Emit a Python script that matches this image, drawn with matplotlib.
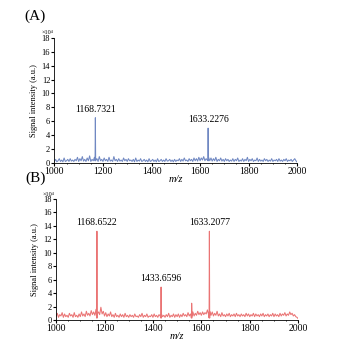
import numpy as np
import matplotlib.pyplot as plt

plt.rcParams['font.family'] = 'Liberation Serif'

# m/z grid for the baseline (every 5 units)
mz_grid = list(range(1000, 2001, 5))

noise_a = [0.2, 0.5, 0.15, 0.3, 0.6, 0.2, 0.4, 0.15, 0.7, 0.2, 0.3, 0.5, 0.2, 0.6, 0.25, 0.4, 0.2, 0.5, 0.3, 0.8,
           0.2, 0.6, 0.3, 0.9, 0.25, 0.5, 0.2, 0.7, 0.3, 1.0, 0.2, 0.5, 0.3, 0.8, 0.4, 0.6, 0.2, 0.9, 0.3, 0.5,
           0.2, 0.7, 0.3, 0.5, 0.2, 0.8, 0.25, 0.4, 0.2, 0.9, 0.3, 0.5, 0.2, 0.6, 0.25, 0.4, 0.2, 0.7, 0.3, 0.5,
           0.2, 0.6, 0.3, 0.4, 0.2, 0.5, 0.15, 0.7, 0.2, 0.4, 0.25, 0.6, 0.2, 0.3, 0.5, 0.2, 0.4, 0.15, 0.6, 0.2,
           0.3, 0.5, 0.2, 0.4, 0.15, 0.6, 0.2, 0.3, 0.5, 0.2, 0.4, 0.2, 0.6, 0.25, 0.3, 0.5, 0.2, 0.4, 0.15, 0.5,
           0.2, 0.4, 0.3, 0.6, 0.2, 0.5, 0.25, 0.7, 0.3, 0.4, 0.2, 0.6, 0.3, 0.5, 0.2, 0.7, 0.3, 0.6, 0.25, 0.8,
           0.3, 0.7, 0.4, 0.9, 0.3, 0.6, 0.4, 0.8, 0.3, 0.7, 0.25, 0.6, 0.3, 0.8, 0.2, 0.5, 0.3, 0.7, 0.25, 0.5,
           0.2, 0.6, 0.3, 0.5, 0.2, 0.4, 0.25, 0.6, 0.2, 0.5, 0.3, 0.7, 0.2, 0.4, 0.25, 0.6, 0.2, 0.5, 0.3, 0.8,
           0.2, 0.5, 0.3, 0.6, 0.2, 0.4, 0.3, 0.7, 0.2, 0.5, 0.25, 0.4, 0.2, 0.6, 0.3, 0.5, 0.2, 0.4, 0.25, 0.6,
           0.2, 0.4, 0.3, 0.5, 0.2, 0.6, 0.25, 0.4, 0.2, 0.5, 0.3, 0.6, 0.2, 0.4, 0.3, 0.5, 0.2, 0.4, 0.6, 0.3,
           0.1]

noise_b = [0.5, 1.0, 0.4, 0.8, 0.6, 1.1, 0.4, 0.9, 0.5, 0.7, 0.4, 1.0, 0.6, 0.8, 0.4, 1.1, 0.5, 0.7, 0.4, 0.9,
           0.5, 1.2, 0.6, 0.9, 0.5, 1.3, 0.7, 1.0, 0.6, 1.4, 0.8, 1.2, 0.7, 1.6, 0.9, 1.2, 0.8, 1.9, 0.9, 1.3,
           0.6, 1.1, 0.5, 0.9, 0.6, 1.2, 0.5, 0.8, 0.4, 1.0, 0.5, 0.7, 0.4, 0.9, 0.5, 0.8, 0.4, 1.0, 0.5, 0.7,
           0.4, 0.8, 0.5, 0.7, 0.4, 0.9, 0.5, 0.6, 0.4, 0.8, 0.5, 1.0, 0.4, 0.7, 0.5, 0.9, 0.4, 0.6, 0.5, 0.8,
           0.4, 0.9, 0.5, 0.7, 0.4, 0.8, 0.6, 0.9, 0.5, 0.7, 0.4, 0.8, 0.5, 1.0, 0.4, 0.7, 0.5, 0.9, 0.4, 0.8,
           0.5, 0.9, 0.4, 0.8, 0.5, 1.0, 0.6, 0.8, 0.5, 1.1, 0.6, 0.9, 0.7, 1.2, 0.6, 1.0, 0.7, 1.3, 0.8, 1.1,
           0.7, 1.2, 0.8, 1.1, 0.9, 1.5, 0.8, 1.3, 0.7, 1.2, 0.6, 1.0, 0.7, 1.3, 0.6, 0.9, 0.5, 1.1, 0.6, 0.8,
           0.5, 0.9, 0.6, 1.0, 0.5, 0.8, 0.6, 0.9, 0.5, 1.0, 0.6, 0.8, 0.5, 0.9, 0.6, 0.8, 0.5, 1.0, 0.6, 0.9,
           0.5, 0.8, 0.6, 1.0, 0.5, 0.9, 0.6, 0.8, 0.5, 0.9, 0.6, 1.0, 0.5, 0.8, 0.6, 0.9, 0.5, 0.8, 0.6, 1.0,
           0.5, 0.9, 0.6, 0.8, 0.5, 1.0, 0.6, 0.9, 0.7, 1.1, 0.6, 0.9, 0.7, 1.2, 0.8, 1.0, 0.6, 0.8, 0.5, 0.4,
           0.2]

# peaks (m/z, height x10^4)
peaks_a_mz = [1168.7321, 1633.2276]
peaks_a_h = [6.5, 5.0]
labels_a = ['1168.7321', '1633.2276']

peaks_b_mz = [1168.6522, 1433.6596, 1560.0, 1633.2077]
peaks_b_h = [13.2, 4.9, 2.5, 13.2]
labels_b = ['1168.6522', '1433.6596', None, '1633.2077']


def spectrum(noise, pk_mz, pk_h):
    x = list(mz_grid)
    y = list(noise)
    for m, h in zip(pk_mz, pk_h):
        x += [m - 1.2, m, m + 1.2]
        y += [0.3, h, 0.3]
    order = np.argsort(x)
    return np.array(x)[order], np.array(y)[order]


fig = plt.figure(figsize=(3.4, 3.54), dpi=100)
ax_a = fig.add_axes([0.160, 0.540, 0.714, 0.353])
ax_b = fig.add_axes([0.165, 0.096, 0.712, 0.342])

panels = [
    (ax_a, noise_a, peaks_a_mz, peaks_a_h, labels_a, '#7088c2', '(A)'),
    (ax_b, noise_b, peaks_b_mz, peaks_b_h, labels_b, '#ea7474', '(B)'),
]

for ax, noise, pmz, ph, labs, col, tag in panels:
    x, y = spectrum(noise, pmz, ph)
    ax.plot(x, y, color=col, lw=0.75)
    for m, h, lab in zip(pmz, ph, labs):
        if lab:
            ax.text(m, h + 0.6, lab, ha='center', va='bottom', fontsize=7)
    ax.set_xlim(1000, 2000)
    ax.set_ylim(0, 18)
    ax.set_xticks([1000, 1200, 1400, 1600, 1800, 2000])
    ax.set_xticks(range(1000, 2001, 50), minor=True)
    ax.set_yticks(range(0, 19, 2))
    ax.tick_params(axis='x', labelsize=7, length=2, pad=1)
    ax.tick_params(axis='x', which='minor', length=1)
    ax.tick_params(axis='y', labelsize=6, length=2, pad=1)
    ax.spines['top'].set_visible(False)
    ax.spines['right'].set_visible(False)
    for s in ['left', 'bottom']:
        ax.spines[s].set_linewidth(0.6)
    ax.set_ylabel('Signal intensity (a.u.)', fontsize=6, labelpad=3)
    ax.set_xlabel('m/z', fontsize=7.5, style='italic', labelpad=-1)
    ax.text(-0.03, 1.02, '×10⁴', transform=ax.transAxes, fontsize=4.5,
            ha='center', va='bottom')
    ax.text(-0.125, 1.17, tag, transform=ax.transAxes, fontsize=11,
            ha='left', va='center')

fig.savefig('out.png', dpi=100, facecolor='white')
